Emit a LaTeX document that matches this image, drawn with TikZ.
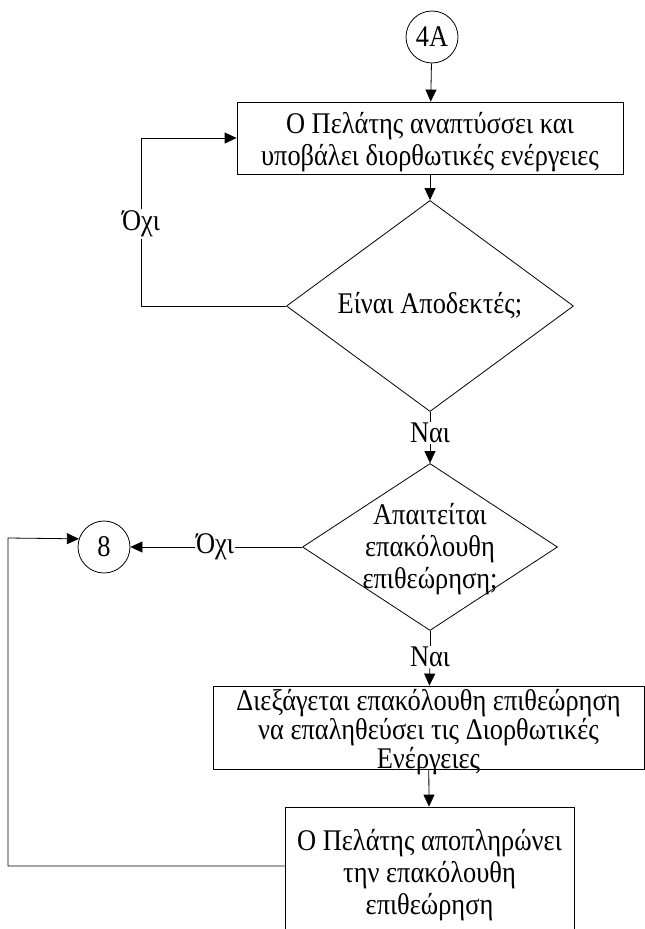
\documentclass[tikz,border=0pt]{standalone}
\usepackage{fontspec}
\setmainfont{Liberation Serif}[FakeStretch=0.88]
\usetikzlibrary{shapes,arrows.meta}
\tikzstyle{proc}=[rectangle,draw=black,line width=0.8pt,align=center,inner sep=2pt]
\tikzstyle{dec}=[diamond,draw=black,line width=0.8pt,inner sep=0pt]
\tikzstyle{conn}=[circle,draw=black,line width=0.8pt,minimum size=52pt,inner sep=0pt]
\tikzstyle{lbl}=[fill=white,inner sep=1pt]
\tikzstyle{arr}=[-{Triangle[length=12pt,width=11pt]}]

\begin{document}
\begin{tikzpicture}[x=1pt,y=-1pt,line width=0.8pt,font=\fontsize{30}{32}\selectfont]
    \useasboundingbox (0,0) rectangle (645,929);
    \clip (0,0) rectangle (645,929);
    \node [style=conn] (c4A) at (432,37) {4A};
    \node [style=proc,minimum width=386pt,minimum height=72pt] (submit) at (430,138) {};
    \node [align=center] (submittxt) at (430,142) {Ο Πελάτης αναπτύσσει και\\υποβάλει διορθωτικές ενέργειες};
    \node [style=dec,minimum width=287pt,minimum height=192pt] (accept) at (430,306) {Είναι Αποδεκτές;};
    \node [style=lbl] (no1) at (141,224) {Όχι};
    \node [style=lbl] (yes1) at (430,433) {Ναι};
    \node [style=dec,minimum width=255pt,minimum height=167pt] (reinsp) at (430,547) {};
    \node [align=center] (reinsptxt) at (430,549) {Απαιτείται\\επακόλουθη\\επιθεώρηση;};
    \node [style=lbl] (no2) at (215,547) {Όχι};
    \node [style=conn] (c8) at (104,547) {8};
    \node [style=lbl] (yes2) at (430,657) {Ναι};
    \node [style=proc,minimum width=431pt,minimum height=83pt] (conduct) at (428.5,727.5) {};
    \node [align=center,font=\fontsize{30}{29}\selectfont] (conducttxt) at (428.5,732) {Διεξάγεται επακόλουθη επιθεώρηση\\να επαληθεύσει τις Διορθωτικές\\Ενέργειες};
    \node [style=proc,minimum width=289pt,minimum height=136pt] (pay) at (429.5,875) {Ο Πελάτης αποπληρώνει\\την επακόλουθη\\επιθεώρηση};
    \coordinate (back) at (8,538);
    \draw [style=arr] (c4A) to (submit);
    \draw [style=arr] (submit) to (accept);
    \draw (accept.west) -| (no1);
    \draw [style=arr] (no1) |- (submit.west);
    \draw (accept) to (yes1);
    \draw [style=arr] (yes1) to (reinsp);
    \draw (reinsp) to (no2);
    \draw [style=arr] (no2) to (c8);
    \draw (reinsp) to (yes2);
    \draw [style=arr] (yes2) to (conduct);
    \draw [style=arr] (conduct) to (pay);
    \draw [style=arr] ([yshift=9pt]pay.west) -| (back) -- (c8.162);
\end{tikzpicture}
\end{document}
